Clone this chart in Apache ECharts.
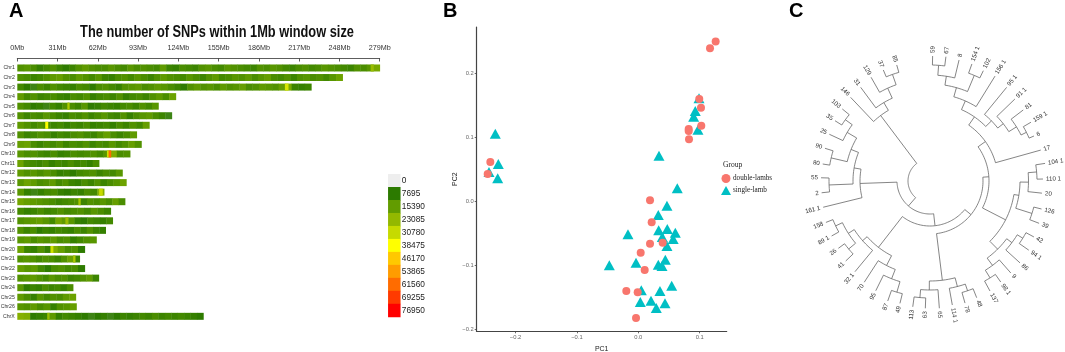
<!DOCTYPE html>
<html><head><meta charset="utf-8">
<style>html,body{margin:0;padding:0;background:#fff}#c{width:1065px;height:352px}</style>
<script src="https://cdn.jsdelivr.net/npm/echarts@6/dist/echarts.min.js"></script>
</head><body><div id="c"></div>
<script>
// ---------- Panel A data ----------
const chrNames = ['Chr1','Chr2','Chr3','Chr4','Chr5','Chr6','Chr7','Chr8','Chr9','Chr10','Chr11','Chr12','Chr13','Chr14','Chr15','Chr16','Chr17','Chr18','Chr19','Chr20','Chr21','Chr22','Chr23','Chr24','Chr25','Chr26','ChrX'];
const chrLengths = [279,250.4,226.3,122,108.6,118.9,101.6,91.9,95.5,86.8,62.9,80.9,83.9,66.8,82.9,71.9,73.4,68,60.9,51.9,48,51.9,62.7,42.9,45,45.5,143.2];
// SNP counts per window, in thousands, read along each chromosome
const chr1 = [13,14,12,9,11,13,10,8,10,13,15,13,12,12,14,12,11,14,12,13,12,11,15,10,9,12,11,10,13,14,12,11,14,13,12,11,10,13,12,14,13,11,10,12,13,11,12,14,13,12,11,10,13,12,14,19];
const chr2 = [13,12,10,11,13,15,16,13,12,15,13,11,14,10,9,12,13,11,14,12,10,13,15,13,12,11,14,12,10,13,15,11,12,14,13,15,12,14,16,12,11,13,10,13,14,12,13,11,14,17];
const chr3 = [11,8,7,12,10,13,11,10,9,12,11,8,12,13,11,9,13,14,15,12,13,15,14,12,10,8,13,15,13,14,12,15,13,14,16,12,13,15,14,13,16,19,10,9,10];
const chr4 = [15,11,13,10,11,12,10,9,12,11,13,9,11,12,10,13,9,11,12,10,13,15,12,17];
const chr5 = [13,11,8,9,7,11,9,13,12,10,14,8,9,11,10,9,11,12,10,13,11,14];
const chr6 = [13,10,12,11,14,12,10,9,12,11,13,10,12,14,11,10,13,9,12,14,15,12,10,7];
const chr7 = [15,13,11,13,12,10,11,9,11,10,12,9,10,11,9,12,10,13,11,16];
const chr8 = [13,10,11,13,12,9,11,10,12,13,11,10,13,16,12,10,12,15];
const chr9 = [16,17,12,10,12,11,13,10,12,11,13,10,12,11,14,11,13,16,13];
const chr10 = [14,12,13,11,10,12,9,10,12,11,12,13,11,14,20,12,13];
const chr11 = [17,12,11,10,12,9,11,10,12,10,11,9,12];
const chr12 = [15,13,14,12,14,12,9,10,8,11,12,13,10,12,11,14];
const chr13 = [14,17,15,12,13,15,11,13,10,9,12,10,13,10,12,14,17];
const chr14 = [14,9,7,9,11,12,9,8,10,9,12,11,21];
const chr15 = [18,16,15,14,13,12,10,11,12,13,10,13,12,14,12,16,12];
const chr16 = [11,9,10,12,10,11,13,11,12,13,11,14,12,10];
const chr17 = [13,14,15,16,14,11,18,15,14,9,8,11,10,9,11];
const chr18 = [13,10,12,8,10,9,11,10,9,12,10,13,10,9];
const chr19 = [14,15,12,14,13,15,12,13,9,11,13,14];
const chr20 = [17,10,9,13,9,20,16,12,13,8];
const chr21 = [13,14,13,11,13,12,10,13,17,10];
const chr22 = [16,14,15,11,8,12,13,11,12,8];
const chr23 = [13,14,15,13,11,14,12,13,10,11,13,15,10];
const chr24 = [14,8,10,9,12,10,11,9,12];
const chr25 = [15,12,9,14,11,13,12,15,17];
const chr26 = [14,13,15,12,14,9,13,14,16];
const chrX = [21,20,8,9,10,15,9,11,10,9,8,7,8,9,7,8,10,9,10,11,10,12,10,11,10,11,10,9,8];
const chrBins = [chr1,chr2,chr3,chr4,chr5,chr6,chr7,chr8,chr9,chr10,chr11,chr12,chr13,chr14,chr15,chr16,chr17,chr18,chr19,chr20,chr21,chr22,chr23,chr24,chr25,chr26,chrX];
// narrow hot windows: chromosome index, start Mb, end Mb, SNP count
const hotWindows = [[2,206,208.5,33000],[6,21.5,23.5,38000],[9,69,70.3,32000],[9,70.3,72,62000],[4,38.5,40,27000],[13,63,65.5,31000],[14,47,48.5,26000],[19,25.5,27.5,32000],[20,43,44.5,27000],[0,272,274,24000],[16,37,39,24000],[26,23,24.5,24000]];
const scaleValues = [0,7695,15390,23085,30780,38475,46170,53865,61560,69255,76950];
const scaleColors = ['#eeeeee','#2c7a00','#629c00','#93b800','#c6da00','#ffff00','#ffc800','#ff9c00','#ff6c00','#ff3a00','#ff0000'];

// ---------- Panel B data ----------
const doubleLambs = [[.126,.2495],[.1168,.2386],[.0993,.1594],[.1021,.1458],[.1026,.1177],[.0821,.1125],[.0821,.1094],[.0826,.0964],[.0191,.0011],[.0218,-.0333],[.0191,-.0667],[.0397,-.0652],[.0039,-.0808],[.0104,-.1078],[-.0195,-.1406],[-.001,-.1427],[-.0037,-.1828],[-.241,.0609],[-.2453,.0422]];
const singleLamb = [[.0989,.1605],[.0928,.1406],[.0902,.1317],[.0972,.1114],[.0337,.0708],[.0635,.0198],[.0467,-.0073],[.0326,-.0219],[-.0168,-.052],[.0332,-.0458],[.0472,-.0438],[.0603,-.0495],[.0391,-.0563],[.0568,-.0594],[.0467,-.0703],[-.0472,-.1005],[-.0037,-.0964],[.044,-.0917],[.0326,-.0995],[.0386,-.1016],[.0049,-.1395],[.0353,-.1406],[.0544,-.1323],[.0033,-.1578],[.0207,-.1558],[.0435,-.1598],[.0293,-.1672],[-.2329,.1052],[-.228,.0578],[-.2432,.0453],[-.229,.0355]];
const pcXTicks = [-0.2,-0.1,0,0.1];
const pcYTicks = [-0.2,-0.1,0,0.1,0.2];

// ---------- Panel C data ----------
const leafLabels = ['146','31','129','37','85','59','67','8','154 1','102','156 1','95 1','91 1','81','159 1','6','17','104 1','110 1','20','126','39','42','94 1','86','9','98 1','137','48','78','114 1','65','63','113','49','87','95','70','32 1','41','26','89 1','158','161 1','2','55','80','90','25','35','103'];
const leafAngles = [316.5,323.5,330.4,337.2,344,1.2,7.3,13.5,19.7,25.8,31.8,39.3,46,52.7,59.8,66.6,74.4,81.3,89,96.2,104.1,111.2,118.3,125,132.3,138.7,145,151.4,158.2,164,169.8,175.8,182.1,187.8,193.8,199.4,206.3,213,219.6,226.5,233.7,240.8,248.3,256.2,263.8,271.7,279,287.3,294.9,302.4,309.4];
const leafRadii = [115.3,116.5,119.3,120.4,120.7,125,125.3,124.4,124.3,122.5,123.4,121,118,117.2,116.8,113.3,115,116.4,113,112.6,115,117,118,120.6,121.7,122.4,123.3,125.3,125.7,127,126,127.6,127.4,127,126,127.2,122.4,120.7,117.7,116.2,113.7,112.7,112,110,109,109,108.6,110,111,112.5,113.5];
// nested merges: [node radius, child, child]; a plain number is a leaf index
const cladeTopLeft = [82,0,[91,1,[102,2,[113,3,4]]]];
const cladeTop = [87.5,[97,[106,[116,5,6],7],[114.5,8,9]],10];
const cladeUpperRight = [86,11,[93,12,[102,13,[108,14,15]]]];
const cladeRightA = [90,[98.5,[107,17,18],19],[107,20,21]];
const cladeRightB = [96,[102.5,[109,22,23],24],[105,25,[114,26,27]]];
const cladeBottom = [100,[109,[117,33,32],31],[109,30,[116,29,28]]];
const cladeLowerLeft = [84,[90,38,[97,[104.5,41,42],[106,39,40]]],[95,37,[105,36,[116,35,34]]]];
const cladeWest = [70,43,[77,[101,44,45],[85,[101.5,46,47],[96,48,[104.5,49,50]]]]];
const treeRoot = [22,[33,cladeWest,[45,[53,[59,[68,[78,cladeTop,cladeUpperRight],16],[85,cladeRightA,cladeRightB]],cladeBottom],cladeLowerLeft]],cladeTopLeft];

// ---------- Build ----------
const binData = [];
chrBins.forEach((vals, c) => {
  const w = chrLengths[c] / vals.length;
  vals.forEach((v, i) => binData.push([c, i * w, (i + 1) * w, v * 1000]));
});
hotWindows.forEach(h => binData.push(h));
const scaleData = scaleValues.map((v, i) => [0, i, v]);

const treeSegs = [];
function walk(node, parentR) {
  if (typeof node === 'number') {
    treeSegs.push([parentR, leafAngles[node], leafRadii[node], leafAngles[node]]);
    return leafAngles[node];
  }
  const r = node[0];
  const a = walk(node[1], r), b = walk(node[2], r);
  treeSegs.push([r, a, r, b]);
  const m = (a + b) / 2;
  if (parentR !== null) treeSegs.push([parentR, m, r, m]);
  return m;
}
walk(treeRoot, null);
const leafData = leafLabels.map((t, i) => [leafRadii[i], leafAngles[i], i]);

const sans = '"Liberation Sans", Arial, sans-serif';
const serif = '"Liberation Serif", serif';
const letter = {fontFamily:sans, fontSize:20, fontWeight:'bold', color:'#000'};

const option = {
  animation: false,
  backgroundColor: '#fff',
  title: [
    {text:'A', left:9, top:1, padding:0, textStyle:letter},
    {text:'B', left:443, top:1, padding:0, textStyle:letter},
    {text:'C', left:789, top:1, padding:0, textStyle:letter},
    {text:'Group', left:723, top:161, padding:0, textStyle:{fontFamily:serif, fontSize:7.5, fontWeight:'normal', color:'#222'}}
  ],
  graphic: [
    {type:'text', x:217, y:33, scaleX:0.8, silent:true,
     style:{text:'The number of SNPs within 1Mb window size', font:'bold 16px "Liberation Sans"', fill:'#111', textAlign:'center', textVerticalAlign:'middle'}}
  ],
  grid: [
    {left:17.3, top:63.2, width:362.4, height:257.9, outerBoundsMode:'none'},
    {left:388.3, top:174.3, width:12, height:142.7, outerBoundsMode:'none'},
    {left:476.7, top:27, width:250, height:304.3, outerBoundsMode:'none'}
  ],
  xAxis: [
    {gridIndex:0, type:'value', position:'top', offset:4.7, min:0, max:279, interval:31,
     axisLine:{show:true, lineStyle:{color:'#333', width:0.8}}, axisTick:{show:true, inside:true, length:3, lineStyle:{color:'#333', width:0.8}},
     splitLine:{show:false}, axisLabel:{margin:7, fontFamily:sans, fontSize:7.2, color:'#333', formatter:'{value}Mb'}},
    {gridIndex:1, type:'category', data:[''], show:false},
    {gridIndex:2, type:'value', min:-0.2632, max:0.144, name:'PC1', nameLocation:'middle', nameGap:13,
     nameTextStyle:{fontFamily:sans, fontSize:7, color:'#222'},
     axisLine:{show:true, onZero:false, lineStyle:{color:'#444', width:1.2}},
     axisTick:{show:true, length:2, customValues:pcXTicks, lineStyle:{color:'#444', width:0.8}},
     splitLine:{show:false},
     axisLabel:{margin:3, fontFamily:sans, fontSize:5.8, color:'#666', customValues:pcXTicks, formatter:v => (v < 0 ? '\u2212' : '') + Math.abs(v).toFixed(1)}}
  ],
  yAxis: [
    {gridIndex:0, type:'category', inverse:true, data:chrNames, axisLine:{show:false}, axisTick:{show:false},
     axisLabel:{margin:2.5, interval:0, fontFamily:sans, fontSize:5.2, color:'#333'}},
    {gridIndex:1, type:'category', inverse:true, position:'right', data:scaleValues.map(String), axisLine:{show:false}, axisTick:{show:false},
     axisLabel:{margin:1.5, interval:0, fontFamily:sans, fontSize:8.3, color:'#222'}},
    {gridIndex:2, type:'value', min:-0.2036, max:0.272, name:'PC2', nameLocation:'middle', nameGap:16,
     nameTextStyle:{fontFamily:sans, fontSize:7, color:'#222'},
     axisLine:{show:true, onZero:false, lineStyle:{color:'#444', width:1.2}},
     axisTick:{show:true, length:2, customValues:pcYTicks, lineStyle:{color:'#444', width:0.8}},
     splitLine:{show:false},
     axisLabel:{margin:3, fontFamily:sans, fontSize:5.8, color:'#666', customValues:pcYTicks, formatter:v => (v < 0 ? '\u2212' : '') + Math.abs(v).toFixed(1)}}
  ],
  polar: {center:[930,181], radius:140},
  radiusAxis: {min:0, max:140, show:false},
  angleAxis: {min:0, max:360, startAngle:90, show:false},
  visualMap: [
    {type:'continuous', show:false, seriesIndex:0, dimension:3, min:0, max:76950, inRange:{color:scaleColors}},
    {type:'continuous', show:false, seriesIndex:1, dimension:2, min:0, max:76950, inRange:{color:scaleColors}}
  ],
  legend: {left:721, top:174, orient:'vertical', itemWidth:10, itemHeight:9, itemGap:3, padding:0,
    data:['double-lambs','single-lamb'], textStyle:{fontFamily:serif, fontSize:7.2, color:'#222', padding:[0,0,0,-3]}},
  series: [
    {type:'custom', xAxisIndex:0, yAxisIndex:0, data:binData, encode:{x:[1,2], y:0}, clip:false, silent:true,
     renderItem(p, api) {
       const a = api.coord([api.value(1), api.value(0)]);
       const b = api.coord([api.value(2), api.value(0)]);
       return {type:'rect', shape:{x:a[0], y:a[1]-3.5, width:b[0]-a[0]+0.4, height:7}, style:{fill:api.visual('color')}};
     }},
    {type:'heatmap', xAxisIndex:1, yAxisIndex:1, data:scaleData, silent:true, itemStyle:{borderWidth:0}},
    {name:'single-lamb', type:'scatter', xAxisIndex:2, yAxisIndex:2, data:singleLamb, symbol:'triangle', symbolSize:[11,10], itemStyle:{color:'#00BFC4', opacity:1}, z:2},
    {name:'double-lambs', type:'scatter', xAxisIndex:2, yAxisIndex:2, data:doubleLambs, symbol:'circle', symbolSize:8, itemStyle:{color:'#F8766D', opacity:1}, z:3},
    {type:'custom', coordinateSystem:'polar', polarIndex:0, data:treeSegs, encode:{radius:[0,2], angle:[1,3]}, clip:false, silent:true,
     renderItem(p, api) {
       const r1 = api.value(0), a1 = api.value(1), r2 = api.value(2), a2 = api.value(3);
       let d = a2 - a1;
       if (d > 180) d -= 360;
       if (d < -180) d += 360;
       const n = r1 === r2 ? Math.max(1, Math.ceil(Math.abs(d) / 2)) : 1;
       const pts = [];
       for (let i = 0; i <= n; i++) pts.push(api.coord([r1 + (r2 - r1) * i / n, (a1 + d * i / n + 360) % 360]));
       return {type:'polyline', shape:{points:pts}, style:{fill:null, stroke:'#666', lineWidth:0.8}};
     }},
    {type:'custom', coordinateSystem:'polar', polarIndex:0, data:leafData, encode:{radius:0, angle:1}, clip:false, silent:true,
     renderItem(p, api) {
       const r = api.value(0), a = api.value(1);
       const pos = api.coord([r + 3, a]);
       const right = a <= 180;
       const deg = right ? 90 - a : 270 - a;
       return {type:'text', x:pos[0], y:pos[1], rotation:deg * Math.PI / 180,
         style:{text:leafLabels[api.value(2)], fontFamily:sans, fontSize:6.2, fill:'#333', textAlign:right ? 'left' : 'right', textVerticalAlign:'middle'}};
     }}
  ]
};
echarts.init(document.getElementById('c'), null, {renderer:'canvas'}).setOption(option);
</script></body></html>
